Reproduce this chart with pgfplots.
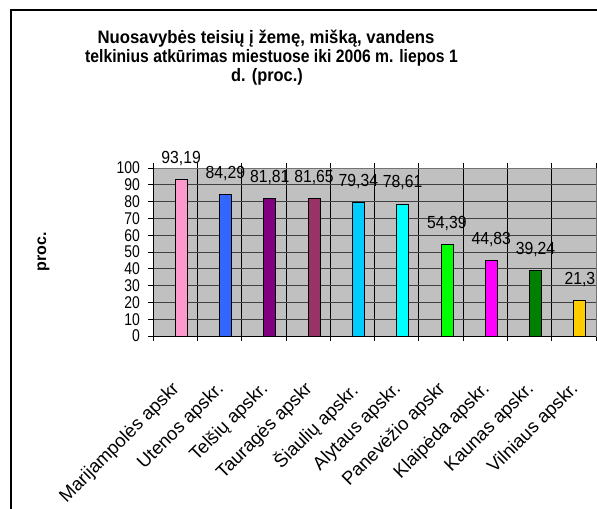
\documentclass[border=0pt]{standalone}
\usepackage{fontspec}
\setmainfont{Liberation Sans}
\newfontfamily\condfont[FakeStretch=0.82]{Liberation Sans}
\newfontfamily\lblfont[FakeStretch=0.9]{Liberation Sans}
\newfontfamily\titlefonta[FakeStretch=0.93]{Liberation Sans}
\newfontfamily\titlefontb[FakeStretch=0.873]{Liberation Sans}
\newfontfamily\titlefontc[FakeStretch=0.91]{Liberation Sans}
\usepackage{pgfplots}
\pgfplotsset{compat=1.18}
\definecolor{c1}{HTML}{FF99CC}
\definecolor{c2}{HTML}{3366FF}
\definecolor{c3}{HTML}{800080}
\definecolor{c4}{HTML}{993366}
\definecolor{c5}{HTML}{00CCFF}
\definecolor{c6}{HTML}{00FFFF}
\definecolor{c7}{HTML}{00FF00}
\definecolor{c8}{HTML}{FF00FF}
\definecolor{c9}{HTML}{008000}
\definecolor{c10}{HTML}{FFCC00}
\definecolor{plotbg}{HTML}{C0C0C0}
\begin{document}
\begin{tikzpicture}[x=1bp,y=1bp]
\useasboundingbox (0,0) rectangle (597,509);
\draw[line width=1.2bp] (11,-5) -- (11,499) -- (602,499);
\node[font=\titlefonta\bfseries\fontsize{18bp}{20bp}\selectfont, anchor=base] at (266,465.5) {Nuosavybės teisių į žemę, mišką, vandens};
\node[font=\titlefontb\bfseries\fontsize{18bp}{20bp}\selectfont, anchor=base] at (271.5,446.5) {telkinius atkūrimas miestuose iki 2006 m. liepos 1};
\node[font=\titlefontc\bfseries\fontsize{18bp}{20bp}\selectfont, anchor=base] at (267,427.5) {d. (proc.)};
\node[font=\bfseries\fontsize{16bp}{18bp}\selectfont, rotate=90, anchor=base] at (46,257) {proc.};
\begin{axis}[
  at={(153bp,173bp)}, anchor=south west,
  scale only axis, width=443bp, height=168bp,
  xmin=-0.5, xmax=9.5, ymin=0, ymax=100,
  clip=false,
  axis background/.style={fill=plotbg},
  axis line style={draw=black!55, line width=0.8bp},
  ybar, bar width=0.27, 
  xtick={0,...,9},
  xticklabels={Marijampolės apskr, Utenos apskr., Telšių apskr., Tauragės apskr, Šiaulių apskr., Alytaus apskr., Panevėžio apskr, Klaipėda apskr., Kaunas apskr., Vilniaus apskr.},
  major x tick style={draw=none},
  minor xtick={-0.5,0.5,...,9.5},
  xminorgrids, minor x grid style={black, line width=0.8bp},
  minor tick length=5bp,
  ytick={0,10,...,100},
  ymajorgrids, major y grid style={black!75, line width=0.8bp},
  major tick length=5bp,
  tick align=outside,
  tick style={black, line width=0.8bp},
  xticklabel style={xshift=-4.5bp, yshift=-39bp, rotate=45, anchor=north east, inner sep=0pt, font=\fontsize{18.5bp}{18.5bp}\selectfont},
  yticklabel style={font=\condfont\fontsize{17bp}{17bp}\selectfont, inner sep=0pt, xshift=-8bp},
  /pgf/number format/assume math mode=true,
  nodes near coords,
  nodes near coords style={font=\lblfont\fontsize{17.5bp}{17.5bp}\selectfont, anchor=base, inner sep=0pt, yshift=16bp, /pgf/number format/use comma, /pgf/number format/precision=2, /pgf/number format/assume math mode=true},
  every axis plot/.append style={bar shift=0.135, draw=black, line width=0.8bp},
]
\addplot[fill=c1] coordinates {(0,93.19)};
\addplot[fill=c2] coordinates {(1,84.29)};
\addplot[fill=c3] coordinates {(2,81.81)};
\addplot[fill=c4] coordinates {(3,81.65)};
\addplot[fill=c5] coordinates {(4,79.34)};
\addplot[fill=c6] coordinates {(5,78.61)};
\addplot[fill=c7] coordinates {(6,54.39)};
\addplot[fill=c8] coordinates {(7,44.83)};
\addplot[fill=c9] coordinates {(8,39.24)};
\addplot[fill=c10] coordinates {(9,21.3)};
\draw[black, line width=0.9bp] (axis cs:-0.5,100) -- (axis cs:-0.5,0) -- (axis cs:9.5,0);
\end{axis}
\end{tikzpicture}
\end{document}
